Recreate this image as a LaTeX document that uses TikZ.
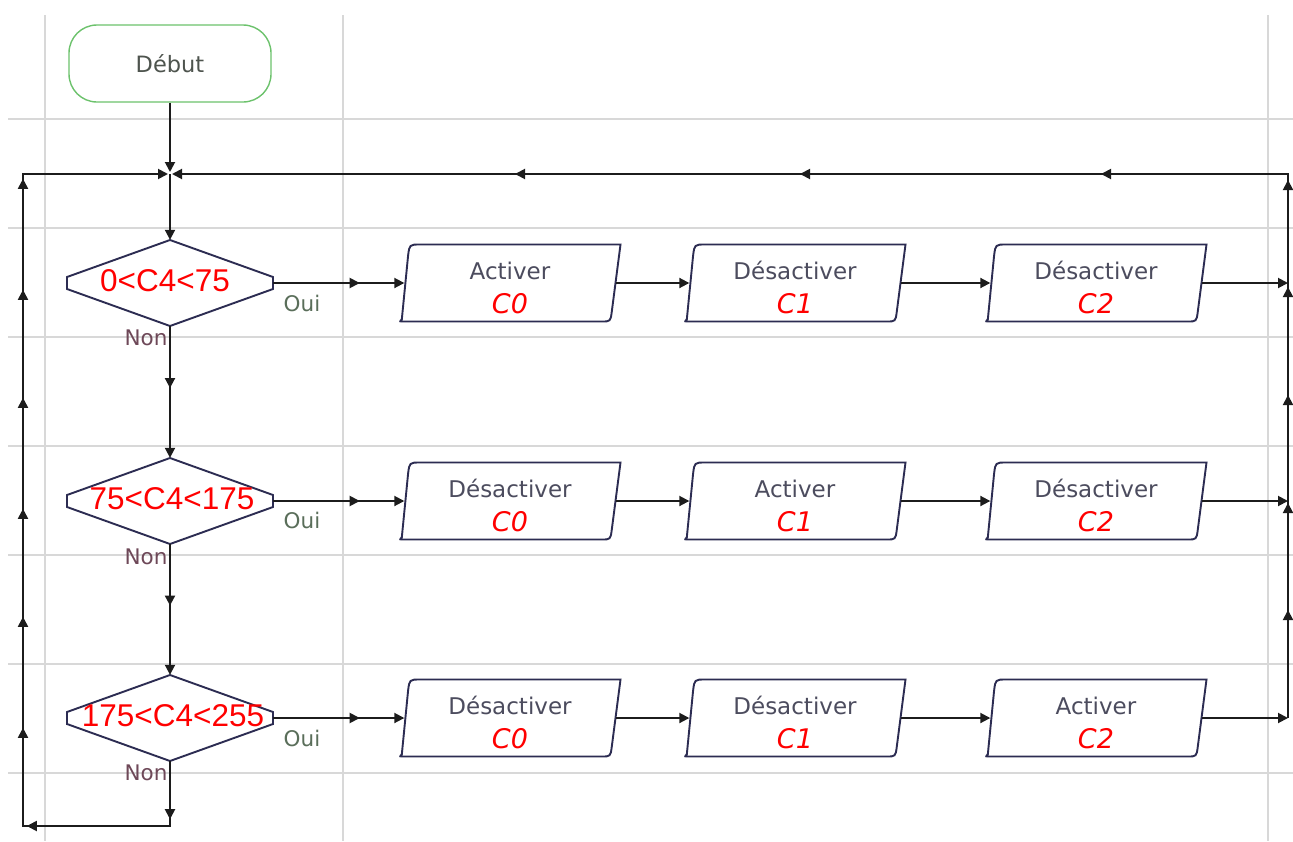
\documentclass[tikz,border=0pt]{standalone}
\usepackage{fontspec}
\setmainfont{DejaVu Sans}
\newfontfamily\condfont{Liberation Sans}
\usetikzlibrary{arrows.meta,decorations.markings,calc}

\definecolor{gridgray}{HTML}{D8D8D8}
\definecolor{wirecol}{HTML}{1C1C1C}
\definecolor{shapeline}{HTML}{2C2C52}
\definecolor{startline}{HTML}{6CC26C}
\definecolor{startword}{HTML}{4E544E}
\definecolor{boxword}{HTML}{4C4C5E}
\definecolor{ouicol}{HTML}{5A6E5A}
\definecolor{noncol}{HTML}{6E4858}
\definecolor{condred}{HTML}{FF0000}

% process box: slanted outline, rounded top-left and bottom-right corners
\newcommand\iobox[5]{%
  \node[ioshape] (#1) at (#2,#3) {};
  \begin{scope}[shift={(#2,#3)}]
    \draw[ioline] (-108.2,36.5) .. controls (-110.5,38.5) .. (-106,38.5) -- (91.5,38.5)
      .. controls (100.5,38.5) .. (101.8,28.5) -- (110.5,-38.5) -- (-89.5,-38.5)
      .. controls (-100.5,-38.5) .. (-101.9,-27.5) -- cycle;
  \end{scope}
  \node[boxtxt] (#1-w) at ($(#1.center)+(0,-4)$) {#4};
  \node[ctxt] (#1-c) at ($(#1.center)+(0,30)$) {#5};
}
% decision: flattened diamond; #5 nudges the text sideways
\newcommand\decision[5]{%
  \node[decshape] (#1) at (#2,#3) {};
  \begin{scope}[shift={(#2,#3)}]
    \draw[decline] (0,-43) -- (103,-6) -- (103,6) -- (0,43) -- (-103,6) -- (-103,-6) -- cycle;
  \end{scope}
  \node[condtxt] (#1-t) at ($(#1.center)+(#5,-2)$) {#4};
}

\begin{document}
\begin{tikzpicture}[x=1pt,y=-1pt,
  >={Triangle[length=10pt,width=10pt]},
  gridline/.style={draw=gridgray,line width=1.4pt},
  wire/.style={draw=wirecol,line width=1.9pt},
  midarrow/.style={postaction={decorate},
    decoration={markings,mark=at position #1 with {\arrow{>}}}},
  startbox/.style={draw=startline,line width=1.4pt,rounded corners=28pt,fill=white,
    minimum width=202pt,minimum height=77pt,inner sep=0pt,text=startword,
    font=\fontsize{22.5pt}{26pt}\selectfont},
  ioshape/.style={rectangle,minimum width=211pt,minimum height=77pt,inner sep=0pt},
  ioline/.style={draw=shapeline,line width=1.9pt,fill=white},
  decshape/.style={rectangle,minimum width=206pt,minimum height=86pt,inner sep=0pt},
  decline/.style={draw=shapeline,line width=1.9pt,fill=white},
  boxtxt/.style={anchor=base,inner sep=0pt,text=boxword,font=\fontsize{23pt}{27pt}\selectfont},
  ctxt/.style={anchor=base,inner sep=0pt,text=condred,font=\fontsize{27pt}{30pt}\selectfont\itshape},
  condtxt/.style={inner sep=0pt,text=condred,font=\condfont\fontsize{31.5pt}{34pt}\selectfont},
  ouilbl/.style={inner sep=0pt,text=ouicol,font=\fontsize{21.5pt}{25pt}\selectfont},
  nonlbl/.style={inner sep=0pt,text=noncol,font=\fontsize{21.5pt}{25pt}\selectfont},
]
\useasboundingbox (0,0) rectangle (1293,841);
\fill[white] (0,0) rectangle (1293,841);

% background grid
\foreach \gx in {45,343,1268} \draw[gridline] (\gx,15) -- (\gx,841);
\foreach \gy in {119,228,337,446,555,664,773} \draw[gridline] (8,\gy) -- (1293,\gy);

% loop corners and junctions
\coordinate (j)  at (170,174);
\coordinate (lt) at (23,174);
\coordinate (lb) at (23,826);
\coordinate (bb) at (170,826);
\coordinate (rt) at (1288,174);
\coordinate (r1) at (1288,283);
\coordinate (r2) at (1288,501);
\coordinate (r3) at (1288,718);

% shapes
\node[startbox] (start) at (170,63.5) {Début};

\decision{d1}{170}{283}{0<C4<75}{-5}
\decision{d2}{170}{501}{75<C4<175}{2}
\decision{d3}{170}{718}{175<C4<255}{3}

\iobox{b11}{510}{283}{Activer}{C0}
\iobox{b12}{795}{283}{Désactiver}{C1}
\iobox{b13}{1096}{283}{Désactiver}{C2}
\iobox{b21}{510}{501}{Désactiver}{C0}
\iobox{b22}{795}{501}{Activer}{C1}
\iobox{b23}{1096}{501}{Désactiver}{C2}
\iobox{b31}{510}{718}{Désactiver}{C0}
\iobox{b32}{795}{718}{Désactiver}{C1}
\iobox{b33}{1096}{718}{Activer}{C2}

% branch labels
\node[ouilbl] (oui1) at (302,303) {Oui};
\node[ouilbl] (oui2) at (302,520) {Oui};
\node[ouilbl] (oui3) at (302,738) {Oui};
\node[nonlbl] (non1) at (146,338) {Non};
\node[nonlbl] (non2) at (146,557) {Non};
\node[nonlbl] (non3) at (146,773) {Non};

% main flow
\draw[wire,->,shorten >=2pt] (start) -- (j);
\draw[wire,->] (j) -- (d1.north);
\draw[wire,->,midarrow=0.47] (d1.south) -- (d2.north);
\draw[wire,->,midarrow=0.47] (d2.south) -- (d3.north);

% "Oui" branches
\foreach \r in {1,2,3}{
  \draw[wire,->,midarrow=0.66] (d\r.east) -- (b\r1.west);
  \draw[wire,->] (b\r1.east) -- (b\r2.west);
  \draw[wire,->] (b\r2.east) -- (b\r3.west);
}
\draw[wire,->] (b13.east) -- (r1);
\draw[wire,->] (b23.east) -- (r2);
\draw[wire,->] (b33.east) -- (r3);

% return line on the right
\draw[wire,postaction={decorate},decoration={markings,
    mark=at position 108pt with {\arrow{>}},
    mark=at position 215pt with {\arrow{>}},
    mark=at position 323pt with {\arrow{>}},
    mark=at position 431pt with {\arrow{>}}}]
  (r3) -- (r1);
\draw[wire,->,shorten >=2pt,postaction={decorate},decoration={markings,
    mark=at position 103pt with {\arrow{>}},
    mark=at position 296pt with {\arrow{>}},
    mark=at position 597pt with {\arrow{>}},
    mark=at position 882pt with {\arrow{>}}}]
  (r1) -- (rt) -- (j);

% "Non" of the last test: back round the left side
\draw[wire,->,shorten >=2pt,postaction={decorate},decoration={markings,
    mark=at position 58pt with {\arrow{>}},
    mark=at position 208pt with {\arrow{>}},
    mark=at position 310pt with {\arrow{>}},
    mark=at position 421pt with {\arrow{>}},
    mark=at position 529pt with {\arrow{>}},
    mark=at position 640pt with {\arrow{>}},
    mark=at position 748pt with {\arrow{>}},
    mark=at position 859pt with {\arrow{>}}}]
  (d3.south) -- (bb) -- (lb) -- (lt) -- (j);
\end{tikzpicture}
\end{document}
